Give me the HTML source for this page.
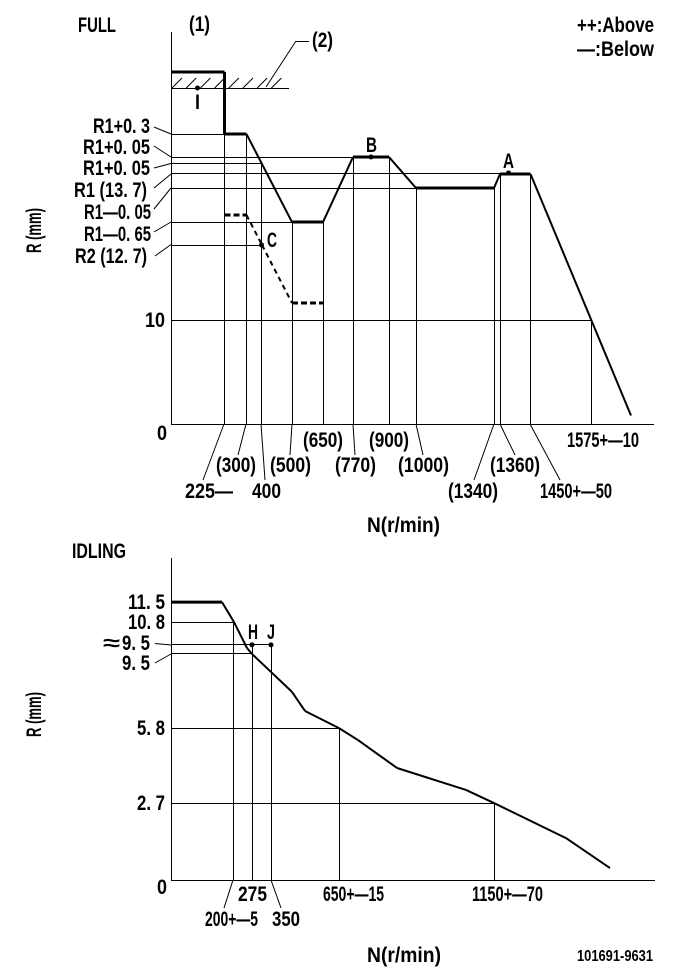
<!DOCTYPE html>
<html lang="en">
<head>
<meta charset="utf-8">
<title>Governor characteristic chart</title>
<style>
html,body{margin:0;padding:0;background:#fff;}
svg{display:block;}
text{font-family:"Liberation Sans",sans-serif;font-size:21px;font-weight:bold;fill:#000;}
.s{font-size:16px;}
</style>
</head>
<body>
<svg id="chart" width="681" height="979" viewBox="0 0 681 979" xmlns="http://www.w3.org/2000/svg">
<rect x="0" y="0" width="681" height="979" fill="#fff"/>

<g id="full-panel">
<g>
<text x="78" y="32" textLength="38" lengthAdjust="spacingAndGlyphs">FULL</text>
<text x="189" y="31" textLength="21" lengthAdjust="spacingAndGlyphs">(1)</text>
<text x="312" y="47" textLength="21" lengthAdjust="spacingAndGlyphs">(2)</text>
<text x="577" y="32" textLength="77" lengthAdjust="spacingAndGlyphs">++:Above</text>
<text x="577" y="56" textLength="77" lengthAdjust="spacingAndGlyphs">—:Below</text>
<text x="195" y="109" textLength="5" lengthAdjust="spacingAndGlyphs">I</text>
<text x="267" y="247" textLength="10" lengthAdjust="spacingAndGlyphs">C</text>
<text x="366" y="152" textLength="11" lengthAdjust="spacingAndGlyphs">B</text>
<text x="503" y="168" textLength="11" lengthAdjust="spacingAndGlyphs">A</text>
</g>
<g>
<text x="93" y="133" textLength="57" lengthAdjust="spacingAndGlyphs">R1+0. 3</text>
<text x="83" y="154" textLength="67" lengthAdjust="spacingAndGlyphs">R1+0. 05</text>
<text x="83" y="175" textLength="67" lengthAdjust="spacingAndGlyphs">R1+0. 05</text>
<text x="74" y="197" textLength="73" lengthAdjust="spacingAndGlyphs">R1 (13. 7)</text>
<text x="84" y="219" textLength="67" lengthAdjust="spacingAndGlyphs">R1—0. 05</text>
<text x="84" y="241" textLength="67" lengthAdjust="spacingAndGlyphs">R1—0. 65</text>
<text x="75" y="263" textLength="72" lengthAdjust="spacingAndGlyphs">R2 (12. 7)</text>
<text x="145" y="327" textLength="20" lengthAdjust="spacingAndGlyphs">10</text>
<text x="157" y="440" textLength="10" lengthAdjust="spacingAndGlyphs">0</text>
<text transform="translate(41 253) rotate(-90)" x="0" y="0" textLength="45" lengthAdjust="spacingAndGlyphs">R (mm)</text>
</g>
<g>
<text x="303" y="447" textLength="40" lengthAdjust="spacingAndGlyphs">(650)</text>
<text x="369" y="447" textLength="40" lengthAdjust="spacingAndGlyphs">(900)</text>
<text x="567" y="447" textLength="72" lengthAdjust="spacingAndGlyphs">1575+—10</text>
<text x="216" y="472" textLength="40" lengthAdjust="spacingAndGlyphs">(300)</text>
<text x="270" y="472" textLength="41" lengthAdjust="spacingAndGlyphs">(500)</text>
<text x="335" y="472" textLength="41" lengthAdjust="spacingAndGlyphs">(770)</text>
<text x="398" y="472" textLength="51" lengthAdjust="spacingAndGlyphs">(1000)</text>
<text x="490" y="472" textLength="50" lengthAdjust="spacingAndGlyphs">(1360)</text>
<text x="185" y="498" textLength="48" lengthAdjust="spacingAndGlyphs">225—</text>
<text x="252" y="498" textLength="29" lengthAdjust="spacingAndGlyphs">400</text>
<text x="448" y="498" textLength="50" lengthAdjust="spacingAndGlyphs">(1340)</text>
<text x="540" y="498" textLength="72" lengthAdjust="spacingAndGlyphs">1450+—50</text>
<text x="367" y="532" textLength="73" lengthAdjust="spacingAndGlyphs">N(r/min)</text>
</g>
</g>

<g id="idle-panel">
<g>
<text x="72" y="558" textLength="54" lengthAdjust="spacingAndGlyphs">IDLING</text>
<text x="128" y="609" textLength="37" lengthAdjust="spacingAndGlyphs">11. 5</text>
<text x="128" y="629" textLength="37" lengthAdjust="spacingAndGlyphs">10. 8</text>
<text x="103" y="650" textLength="17" lengthAdjust="spacingAndGlyphs">≈</text>
<text x="122" y="650" textLength="28" lengthAdjust="spacingAndGlyphs">9. 5</text>
<text x="122" y="670" textLength="28" lengthAdjust="spacingAndGlyphs">9. 5</text>
<text x="137" y="735" textLength="28" lengthAdjust="spacingAndGlyphs">5. 8</text>
<text x="137" y="810" textLength="28" lengthAdjust="spacingAndGlyphs">2. 7</text>
<text x="157" y="894" textLength="10" lengthAdjust="spacingAndGlyphs">0</text>
<text x="248" y="639" textLength="10" lengthAdjust="spacingAndGlyphs">H</text>
<text x="267" y="639" textLength="8" lengthAdjust="spacingAndGlyphs">J</text>
<text transform="translate(41 737) rotate(-90)" x="0" y="0" textLength="45" lengthAdjust="spacingAndGlyphs">R (mm)</text>
<text x="238" y="901" textLength="29" lengthAdjust="spacingAndGlyphs">275</text>
<text x="323" y="901" textLength="61" lengthAdjust="spacingAndGlyphs">650+—15</text>
<text x="472" y="901" textLength="71" lengthAdjust="spacingAndGlyphs">1150+—70</text>
<text x="205" y="926" textLength="53" lengthAdjust="spacingAndGlyphs">200+—5</text>
<text x="272" y="926" textLength="28" lengthAdjust="spacingAndGlyphs">350</text>
<text x="367" y="962" textLength="74" lengthAdjust="spacingAndGlyphs">N(r/min)</text>
<text class="s" x="577" y="961" textLength="76" lengthAdjust="spacingAndGlyphs">101691-9631</text>
</g>
</g>
</svg>

<script>
// Both axes are schematic in the source drawing; values are read against the linear axes below.
const fullCurveN = [0, 214, 214, 302, 484, 608, 728, 872, 980, 1292, 1316, 1438, 1840];
const fullCurveR = [33.85, 33.85, 27.88, 27.88, 19.42, 19.42, 25.67, 25.67, 22.69, 22.69, 24.04, 24.04, 0.82];
const lowerCurveN = [214, 302, 364, 484, 608];
const lowerCurveR = [20.10, 20.10, 17.21, 11.63, 11.63];
const fullLevelR = [27.88, 25.67, 25.05, 24.04, 22.69, 19.42, 17.21, 10];
const fullLevelEndN = [214, 728, 362, 1316, 980, 484, 362, 1682];
const fullDropN = [214, 302, 362, 484, 608, 728, 872, 980, 1292, 1316, 1438, 1682];
const fullDropTopR = [27.88, 27.88, 25.05, 19.42, 19.42, 25.67, 25.67, 22.69, 22.69, 24.04, 24.04, 10];
const fullPointN = [106, 800, 1350, 362];
const fullPointR = [32.31, 25.67, 24.14, 17.21];

const idleCurveN = [0, 204, 252, 304, 324, 400, 484, 536, 672, 748, 904, 1180, 1292, 1580, 1756];
const idleCurveR = [9.75, 9.75, 9.05, 8.14, 7.93, 7.30, 6.60, 5.93, 5.33, 4.91, 3.93, 3.16, 2.70, 1.47, 0.42];
const idleLevelR = [9.05, 8.25, 7.93, 5.33, 2.70];
const idleLevelEndN = [252, 400, 324, 672, 1292];
const idleDropN = [250, 324, 400, 674, 1292];
const idleDropTopR = [9.05, 8.25, 8.25, 5.33, 2.70];
const idlePointN = [324, 400];
const idlePointR = [8.25, 8.25];

const xFull = n => 171 + n * 0.25;
const yFull = r => 424 - r * 10.4;
const xIdle = n => 171 + n * 0.25;
const yIdle = r => 880 - r * 28.5;

const NS = 'http://www.w3.org/2000/svg';
const fullPanel = document.getElementById('full-panel');
const idlePanel = document.getElementById('idle-panel');

function crisp(v){ return Math.floor(v) + 0.5; }

function drawLine(parent, x1, y1, x2, y2, width, name, dash){
  const el = document.createElementNS(NS, 'line');
  el.setAttribute('x1', x1);
  el.setAttribute('y1', y1);
  el.setAttribute('x2', x2);
  el.setAttribute('y2', y2);
  el.setAttribute('stroke', '#000');
  el.setAttribute('stroke-width', width);
  if (dash) el.setAttribute('stroke-dasharray', dash);
  
  
  parent.appendChild(el);
  return el;
}

function drawDot(parent, cx, cy, name){
  const el = document.createElementNS(NS, 'circle');
  el.setAttribute('cx', cx);
  el.setAttribute('cy', cy);
  el.setAttribute('r', 2.5);
  el.setAttribute('fill', '#000');
  
  
  parent.appendChild(el);
}

function drawCurve(parent, ns, rs, xf, yf, name, dash){
  for (let i = 0; i < ns.length - 1; i++) {
    const x1 = xf(ns[i]), y1 = yf(rs[i]), x2 = xf(ns[i + 1]), y2 = yf(rs[i + 1]);
    const straight = ns[i] === ns[i + 1] || rs[i] === rs[i + 1];
    drawLine(parent, x1, y1, x2, y2, straight ? 3 : 2, name, dash ? (straight ? '6 3' : '5 4') : null);
  }
}

function drawGuides(parent, levelR, levelEnd, dropN, dropTop, xf, yf){
  levelR.forEach((r, i) => {
    drawLine(parent, 171.5, crisp(yf(r)), xf(levelEnd[i]), crisp(yf(r)), 1, 'level-guide');
  });
  dropN.forEach((n, i) => {
    drawLine(parent, crisp(xf(n)), yf(dropTop[i]), crisp(xf(n)), yf(0), 1, 'speed-guide');
  });
}

// axes
drawLine(fullPanel, 171.5, 32, 171.5, 424, 1, 'full-y-axis');
drawLine(fullPanel, 171, 424.5, 654, 424.5, 1, 'full-x-axis');
drawLine(idlePanel, 171.5, 558, 171.5, 880, 1, 'idle-y-axis');
drawLine(idlePanel, 171, 880.5, 655, 880.5, 1, 'idle-x-axis');

drawGuides(fullPanel, fullLevelR, fullLevelEndN, fullDropN, fullDropTopR, xFull, yFull);
drawGuides(idlePanel, idleLevelR, idleLevelEndN, idleDropN, idleDropTopR, xIdle, yIdle);

// stopper hatch and callout (2)
drawLine(fullPanel, 171, 88.5, 289, 88.5, 1, 'stopper-line');
for (let hx = 172; hx < 285; hx += 14.2) {
  drawLine(fullPanel, hx, 88, hx + 10, 78, 1, 'stopper-hatch');
}
drawLine(fullPanel, 266, 87, 296, 41, 1, 'callout-2-leader');
drawLine(fullPanel, 296, 41.5, 309, 41.5, 1, 'callout-2-shelf');

// label leaders, full panel
const fullLeaders = [[154,127,171,134],[154,146,171,157],[154,168,171,163.5],[154,188,171,174],[154,209,171,188],[154,232,171,222],[155,256,171,244.5],
  [224,424,203,480],[246,424,238,455],[261,424,265,480],[292,424,290,455],[353,424,355,455],[416,424,423,455],[494,424,474,480],[500,424,515,455],[530,424,560,480]];
fullLeaders.forEach(l => {
  drawLine(fullPanel, l[0], l[1], l[2], l[3], 1, 'label-leader');
});
const idleLeaders = [[155,643.5,171,645],[155,663,171,654],[233,880,224,908],[271,880,281,908]];
idleLeaders.forEach(l => {
  drawLine(idlePanel, l[0], l[1], l[2], l[3], 1, 'label-leader');
});

drawCurve(fullPanel, fullCurveN, fullCurveR, xFull, yFull, 'full-upper-curve', false);
drawCurve(fullPanel, lowerCurveN, lowerCurveR, xFull, yFull, 'full-lower-dashed-curve', true);
drawCurve(idlePanel, idleCurveN, idleCurveR, xIdle, yIdle, 'idle-curve', false);

fullPointN.forEach((n, i) => {
  drawDot(fullPanel, xFull(n), yFull(fullPointR[i]), 'full-point');
});
idlePointN.forEach((n, i) => {
  drawDot(idlePanel, xIdle(n), yIdle(idlePointR[i]), 'idle-point');
});
</script>
</body>
</html>
